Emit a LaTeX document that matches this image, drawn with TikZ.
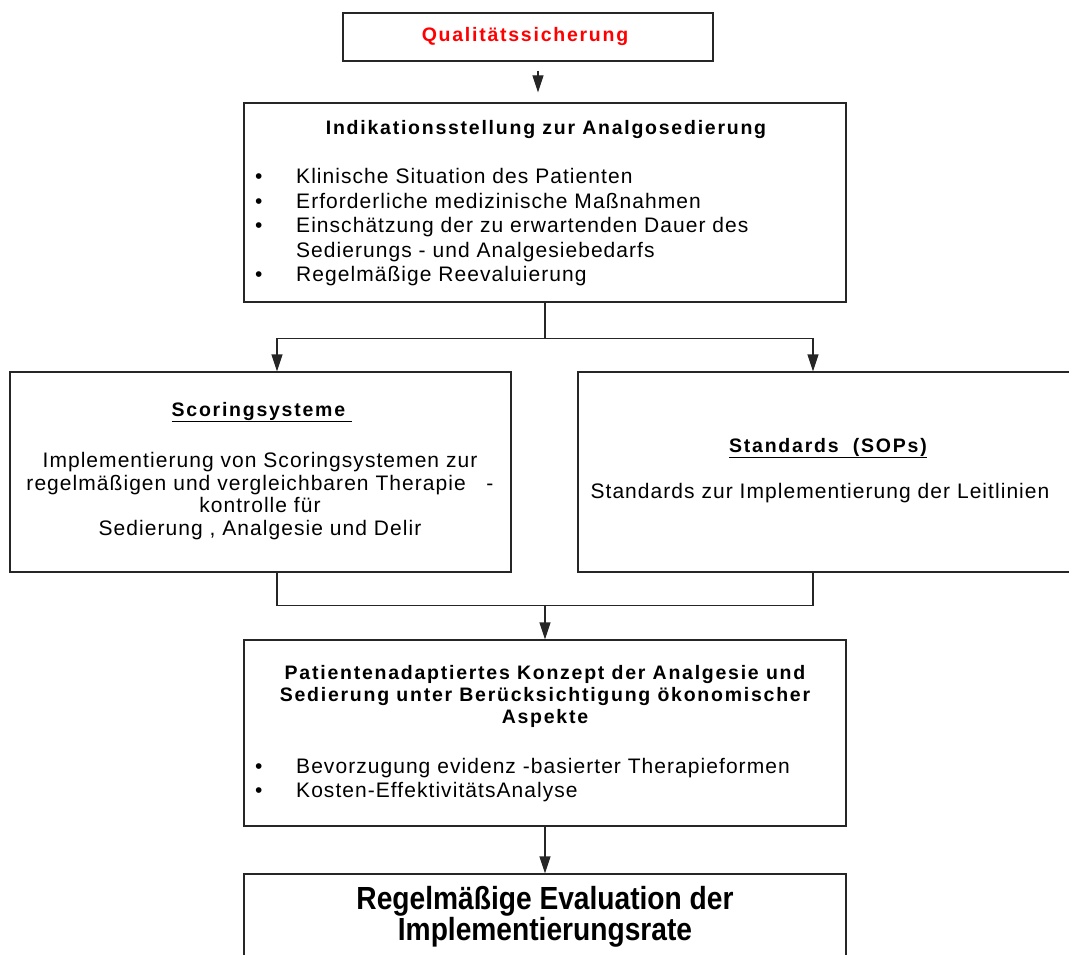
\documentclass[tikz,border=0pt]{standalone}
\usepackage{fontspec}
\setmainfont{Liberation Sans}
\newfontfamily\bodyfont[LetterSpace=5]{Liberation Sans}
\newfontfamily\titlefont[LetterSpace=9]{Liberation Sans}
\newfontfamily\bigfont[FakeStretch=0.88]{Liberation Sans}
\usetikzlibrary{arrows.meta}
\definecolor{qsred}{RGB}{255,0,0}

\tikzset{
  box/.style={draw=black!85, line width=1.3pt, rectangle, inner sep=0pt},
  link/.style={draw=black!85, line width=1.3pt},
  arr/.style={link, -{Triangle[length=17pt,width=11pt]}},
  body/.style={inner sep=0pt, font=\bodyfont\fontsize{21}{24.5}\selectfont},
  title/.style={inner sep=0pt, font=\titlefont\bfseries\fontsize{19.5}{22}\selectfont},
}
\newcommand{\bul}{\makebox[41pt][l]{\textbullet}}
\newcommand{\bulgap}{\makebox[41pt][l]{}}

\begin{document}
\begin{tikzpicture}[x=1pt, y=-1pt]
\useasboundingbox (0,0) rectangle (1069,955);
\clip (0,0) rectangle (1069,955);

% frames
\node[box, minimum width=370pt, minimum height=48pt]  (q)   at (528,37) {};
\node[box, minimum width=602pt, minimum height=199pt] (ind) at (545,202.5) {};
\node[box, minimum width=501pt, minimum height=200pt] (sc)  at (260.5,472) {};
\node[box, minimum width=507pt, minimum height=200pt] (st)  at (831.5,472) {};
\node[box, minimum width=602pt, minimum height=186pt] (pa)  at (545,733) {};
\node[box, minimum width=602pt, minimum height=140pt] (rg)  at (545,944) {};

% quality assurance heading
\node[title, text=qsred] (qt) at (525,37) {Qualitätssicherung};

% indication box
\node[title] (indT) at (546,130) {Indikationsstellung zur Analgosedierung};
\node[body, anchor=north west, align=left] (indL) at (255,168.5)
  {\bul Klinische Situation des Patienten\\
   \bul Erforderliche medizinische Maßnahmen\\
   \bul Einschätzung der zu erwartenden Dauer des\\
   \bulgap Sedierungs - und Analgesiebedarfs\\
   \bul Regelmäßige Reevaluierung};

% scoring systems
\node[title] (scT) at (262,412) {\underline{Scoringsysteme\ }};
\node[body, align=center, font=\bodyfont\fontsize{21}{22.5}\selectfont] (scL) at (260,496)
  {Implementierung von Scoringsystemen zur\\
   regelmäßigen und vergleichbaren Therapie\ \ \ -\\
   kontrolle für\\
   Sedierung , Analgesie und Delir};

% standards
\node[title] (stT) at (828,448) {\underline{Standards\ \ (SOPs)}};
\node[body] (stL) at (820,493) {Standards zur Implementierung der Leitlinien};

% patient adapted concept
\node[title, align=center] (paT) at (545,696)
  {Patientenadaptiertes Konzept der Analgesie und\\
   Sedierung unter Berücksichtigung ökonomischer\\
   Aspekte};
\node[body, anchor=north west, align=left] (paL) at (255,758)
  {\bul Bevorzugung evidenz -basierter Therapieformen\\
   \bul Kosten-EffektivitätsAnalyse};

% evaluation
\node[inner sep=0pt, align=center, font=\bigfont\bfseries\fontsize{32}{27}\selectfont] (rgT) at (545,917)
  {Regelmäßige Evaluation der\\ Implementierungsrate};

% connectors
\draw[arr, shorten <=9pt, shorten >=10pt] ([xshift=10pt]q.south) -- ([xshift=10pt]q.south |- ind.north);
\draw[link] (ind.south) -- ++(0,36) coordinate (split);
\draw[arr] (split) -| ([xshift=16.5pt]sc.north);
\draw[arr] (split) -| ([xshift=-18.5pt]st.north);
\draw[link] ([xshift=16.5pt]sc.south) -- ++(0,33) coordinate (joinL) -| ([xshift=-18.5pt]st.south);
\draw[arr] (joinL -| pa.north) -- (pa.north);
\draw[arr] (pa.south) -- (rg.north);
\end{tikzpicture}
\end{document}
